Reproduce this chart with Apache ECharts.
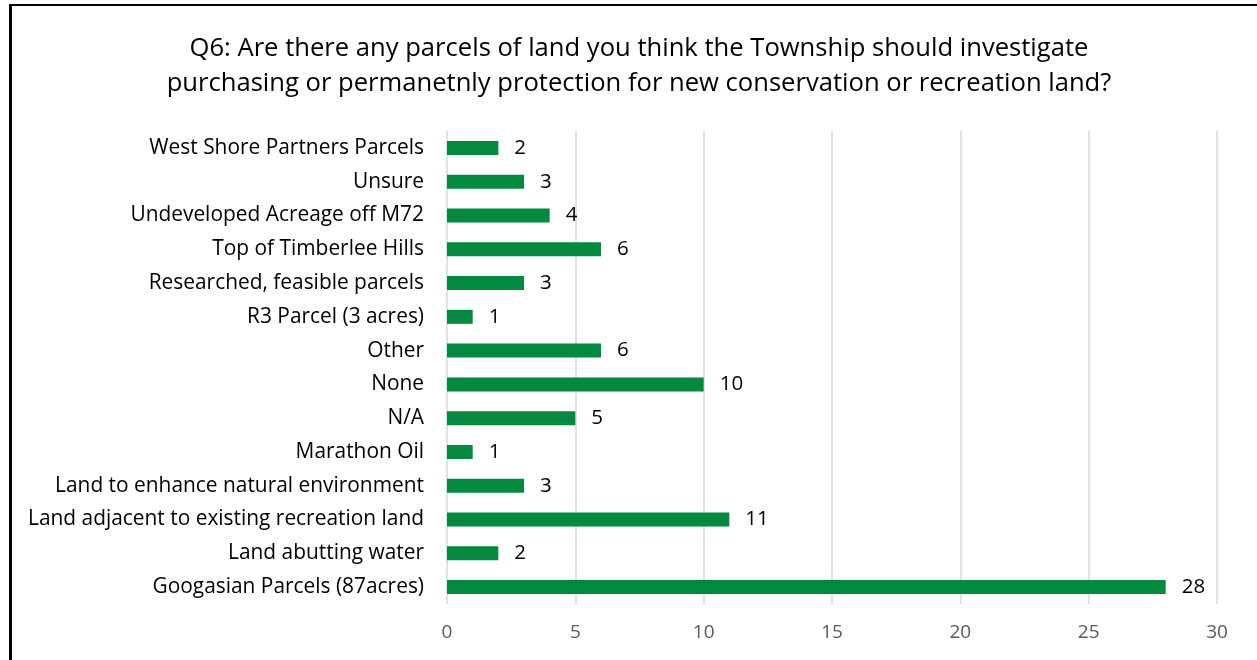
<!DOCTYPE html>
<html>
<head>
<meta charset="utf-8">
<script src="https://cdn.jsdelivr.net/npm/echarts@6/dist/echarts.min.js"></script>
<style>
  html, body { margin: 0; padding: 0; background: #ffffff; }
  #chart { width: 1257px; height: 660px; }
  #frame {
    position: absolute; left: 9px; top: 4px; width: 1245px; height: 670px;
    border-left: 3px solid #000; border-top: 2px solid #000; border-right: 1px solid #bfbfbf;
    pointer-events: none;
  }
</style>
</head>
<body>
<div id="chart"></div>
<div id="frame"></div>
<script>
const titleLines = [
  'Q6: Are there any parcels of land you think the Township should investigate',
  'purchasing or permanetnly protection for new conservation or recreation land?'
];
const categories = [
  'West Shore Partners Parcels',
  'Unsure',
  'Undeveloped Acreage off M72',
  'Top of Timberlee Hills',
  'Researched, feasible parcels',
  'R3 Parcel (3 acres)',
  'Other',
  'None',
  'N/A',
  'Marathon Oil',
  'Land to enhance natural environment',
  'Land adjacent to existing recreation land',
  'Land abutting water',
  'Googasian Parcels (87acres)'
];
const counts = [2, 3, 4, 6, 3, 1, 6, 10, 5, 1, 3, 11, 2, 28];
const xTicks = [0, 5, 10, 15, 20, 25, 30];

const font = '"Open Sans", sans-serif';
const chart = echarts.init(document.getElementById('chart'));
chart.setOption({
  animation: false,
  title: {
    text: titleLines.join('\n'),
    left: 634, top: 26, textAlign: 'center',
    textStyle: { fontFamily: font, fontSize: 25.6, fontWeight: 'normal', color: '#000', lineHeight: 35 }
  },
  grid: { left: 447, right: 40, top: 131, bottom: 56 },
  xAxis: {
    type: 'value', min: xTicks[0], max: xTicks[xTicks.length - 1], interval: 5,
    axisLine: { show: false }, axisTick: { show: false },
    splitLine: { lineStyle: { color: '#d9d9d9', width: 1.5 } },
    axisLabel: { margin: 19, fontFamily: font, fontSize: 19, color: '#595959' }
  },
  yAxis: {
    type: 'category', data: categories, inverse: true,
    axisLine: { show: false }, axisTick: { show: false },
    axisLabel: { margin: 23, fontFamily: font, fontSize: 20.9, color: '#000', padding: [6, 0, 0, 0] }
  },
  series: [{
    type: 'bar', data: counts, barWidth: 14,
    itemStyle: { color: '#038a3e' },
    label: { show: true, position: 'right', distance: 16, fontFamily: font, fontSize: 20.5, color: '#000', padding: [6, 0, 0, 0] }
  }]
});
</script>
</body>
</html>
